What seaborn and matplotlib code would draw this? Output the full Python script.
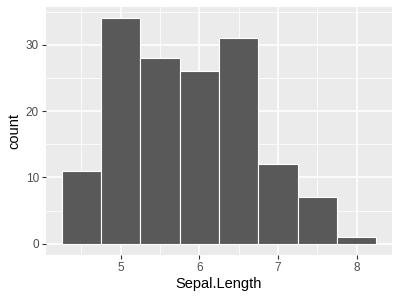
import matplotlib
matplotlib.use("Agg")
import matplotlib.pyplot as plt
import seaborn as sns
import pandas as pd
from matplotlib.ticker import MultipleLocator

# Data (iris Sepal.Length histogram, binwidth 0.5)
bin_edges = [4.25, 4.75, 5.25, 5.75, 6.25, 6.75, 7.25, 7.75, 8.25]
bin_centers = [4.5, 5.0, 5.5, 6.0, 6.5, 7.0, 7.5, 8.0]
counts = [11, 34, 28, 26, 31, 12, 7, 1]
x_ticks = [5, 6, 7, 8]
y_ticks = [0, 10, 20, 30]

df = pd.DataFrame({"Sepal.Length": bin_centers, "count": counts})

sns.set_style("darkgrid", {"axes.facecolor": "#EBEBEB", "grid.color": "white"})
plt.rcParams["font.family"] = ["Liberation Sans", "DejaVu Sans"]

fig = plt.figure(figsize=(4, 3), dpi=100)
ax = fig.add_axes([46 / 400, 1 - 255 / 300, 346 / 400, 248 / 300])

sns.histplot(data=df, x="Sepal.Length", weights="count", bins=bin_edges,
             color="#595959", edgecolor="white", linewidth=0.8, alpha=1, ax=ax)

ax.set_xlim(4.05, 8.45)
ax.set_ylim(-1.7, 35.7)
ax.set_xticks(x_ticks)
ax.set_yticks(y_ticks)
ax.xaxis.set_minor_locator(MultipleLocator(0.5))
ax.yaxis.set_minor_locator(MultipleLocator(5))
ax.grid(which="major", color="white", linewidth=1.1)
ax.grid(which="minor", color="white", linewidth=0.55)
ax.set_axisbelow(True)
for s in ax.spines.values():
    s.set_visible(False)
ax.tick_params(axis="both", which="major", length=3, width=0.8, color="#333333",
               labelsize=8.5, labelcolor="#4D4D4D", pad=2, bottom=True, left=True)
ax.tick_params(axis="both", which="minor", length=0)
ax.set_xlabel("Sepal.Length", fontsize=10.5, color="black", labelpad=2)
ax.set_ylabel("count", fontsize=10.5, color="black", labelpad=3)

fig.savefig("out.png", dpi=100)
